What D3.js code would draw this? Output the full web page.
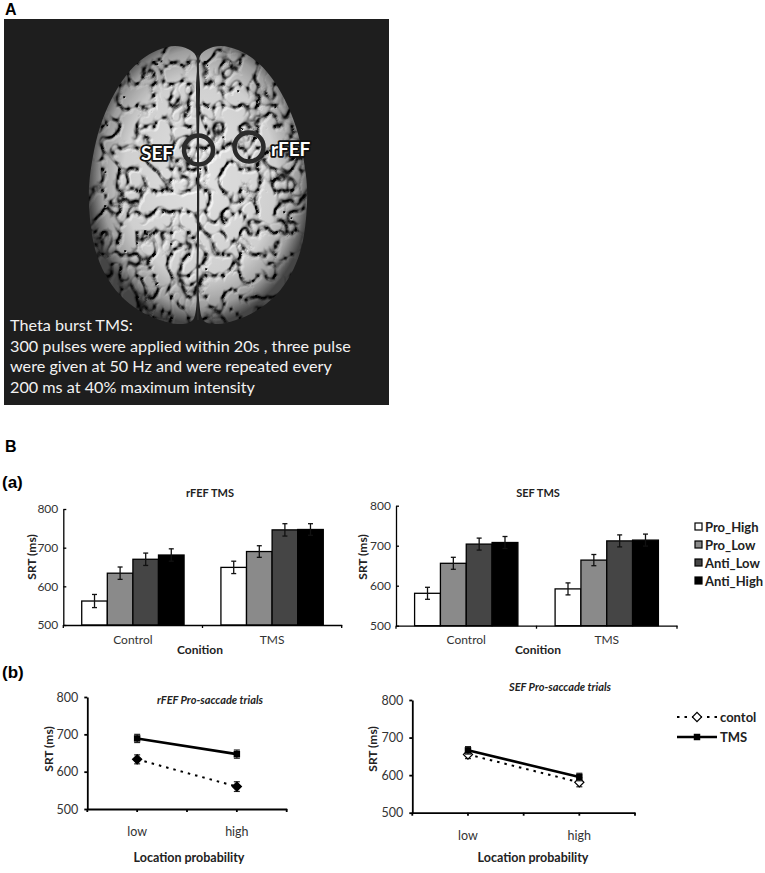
<!DOCTYPE html>
<html>
<head>
<meta charset="utf-8">
<script src="https://cdn.jsdelivr.net/npm/d3@7"></script>
<style>
  body { margin: 0; background: #fff; }
  svg { display: block; }
  text { font-family: Lato, "Open Sans", sans-serif; }
</style>
</head>
<body>
<svg id="fig" width="765" height="873"></svg>
<script>
// (a) mean saccadic reaction times per condition and trial type
const conditions = ["Control", "TMS"];
const trialTypes = ["Pro_High", "Pro_Low", "Anti_Low", "Anti_High"];
const rfefMeans = [[562, 634, 670, 681], [649, 690, 746, 747]];
const rfefErrors = [[17, 16, 16, 16], [16, 15, 16, 15]];
const sefMeans = [[581, 656, 704, 708], [592, 664, 712, 714]];
const sefErrors = [[15, 15, 15, 15], [15, 14, 15, 15]];

// (b) pro-saccade trials by location probability
const probabilities = ["low", "high"];
const lineSeries = ["contol", "TMS"];
const rfefControl = [633, 560];
const rfefControlErr = [12, 13];
const rfefTms = [689, 647];
const rfefTmsErr = [11, 11];
const sefControl = [655, 581];
const sefControlErr = [11, 12];
const sefTms = [666, 595];
const sefTmsErr = [10, 10];

const srtTicks = [500, 600, 700, 800];

// panel A caption
const tmsLines = [
  "Theta burst TMS:",
  "300 pulses were applied within 20s , three pulse",
  "were given at 50 Hz and were repeated every",
  "200 ms at 40% maximum intensity",
];

const trialColors = ["#ffffff", "#8a8a8a", "#454545", "#000000"];

const svg = d3.select("#fig");
const defs = svg.append("defs");

// ---------- panel A ----------
const panelLabel = (txt, x, y) =>
  svg
    .append("text")
    .text(txt)
    .attr("x", x)
    .attr("y", y)
    .style("font-family", "'Liberation Sans', Arial, sans-serif")
    .style("font-weight", "bold")
    .style("font-size", "16px");

panelLabel("A", 5, 15);

svg
  .append("rect")
  .attr("x", 4)
  .attr("y", 19)
  .attr("width", 385)
  .attr("height", 386)
  .attr("fill", "#1e1e1e");

// brain outline, left hemisphere; right one is mirrored about the midline
const midX = 198;
const leftOutline = [
  [196, 56], [188, 49], [175, 46], [158, 50], [141, 60], [125, 77], [111, 100],
  [100, 127], [93, 156], [89, 187], [90, 219], [95, 249], [105, 274], [120, 295],
  [140, 311], [160, 320], [178, 324], [192, 321], [197, 300], [197, 220], [197, 140], [196, 90],
];
const rightOutline = leftOutline.map(([x, y]) => [2 * midX - x, y]);

// one shading for the whole brain: bright top, darker rim
const grad = defs
  .append("radialGradient")
  .attr("id", "brainShade")
  .attr("gradientUnits", "userSpaceOnUse")
  .attr("cx", 0)
  .attr("cy", 0)
  .attr("r", 1)
  .attr("gradientTransform", "translate(200,178) scale(112,146)");
grad.append("stop").attr("offset", "0%").attr("stop-color", "#f7f7f7");
grad.append("stop").attr("offset", "68%").attr("stop-color", "#e4e4e4");
grad.append("stop").attr("offset", "88%").attr("stop-color", "#acacac");
grad.append("stop").attr("offset", "100%").attr("stop-color", "#4c4c4c");

// wrinkled cortex: creases from turbulence, then a little emboss light
const filter = defs
  .append("filter")
  .attr("id", "gyri")
  .attr("x", 0)
  .attr("y", 0)
  .attr("width", 1)
  .attr("height", 1)
  .attr("color-interpolation-filters", "sRGB");
filter
  .append("feTurbulence")
  .attr("type", "turbulence")
  .attr("baseFrequency", "0.058 0.047")
  .attr("numOctaves", 2)
  .attr("seed", 8)
  .attr("result", "noise");
filter
  .append("feColorMatrix")
  .attr("in", "noise")
  .attr("type", "matrix")
  .attr("values", "1.7 0 0 0 0  1.7 0 0 0 0  1.7 0 0 0 0  0 0 0 0 1")
  .attr("result", "raw");
filter
  .append("feGaussianBlur")
  .attr("in", "raw")
  .attr("stdDeviation", 0.6)
  .attr("result", "gray");
const crease = filter.append("feComponentTransfer").attr("in", "gray").attr("result", "crease");
["feFuncR", "feFuncG", "feFuncB"].forEach((f) =>
  crease.append(f).attr("type", "table").attr("tableValues", "0.1 0.72 0.93 1 1 1 1")
);
filter
  .append("feColorMatrix")
  .attr("in", "crease")
  .attr("type", "matrix")
  .attr("values", "0 0 0 0 0  0 0 0 0 0  0 0 0 0 0  1 0 0 0 0")
  .attr("result", "bump");
filter
  .append("feDiffuseLighting")
  .attr("in", "bump")
  .attr("surfaceScale", 2.5)
  .attr("diffuseConstant", 1.05)
  .attr("lighting-color", "#ffffff")
  .attr("result", "light")
  .append("feDistantLight")
  .attr("azimuth", 225)
  .attr("elevation", 52);
filter
  .append("feComposite")
  .attr("in", "crease")
  .attr("in2", "light")
  .attr("operator", "arithmetic")
  .attr("k1", 1.1)
  .attr("result", "shaded");
filter
  .append("feComposite")
  .attr("in", "shaded")
  .attr("in2", "SourceGraphic")
  .attr("operator", "arithmetic")
  .attr("k1", 1);

const outline = d3.line().curve(d3.curveCatmullRomClosed);

const brain = svg.append("g").attr("filter", "url(#gyri)");
[leftOutline, rightOutline].forEach((pts) => {
  brain
    .append("path")
    .attr("d", outline(pts))
    .attr("fill", "url(#brainShade)");
});

// longitudinal fissure
svg
  .append("path")
  .attr("d", d3.line().curve(d3.curveBasis)([[198, 55], [197, 120], [199, 200], [197, 270], [198, 320]]))
  .attr("fill", "none")
  .attr("stroke", "#2a2a2a")
  .attr("stroke-width", 1.8);

// stimulation sites
const sites = [
  { name: "SEF", cx: 198.5, cy: 150, lx: 141, ly: 160 },
  { name: "rFEF", cx: 249, cy: 147, lx: 271, ly: 156 },
];
svg
  .append("g")
  .selectAll("circle")
  .data(sites)
  .join("circle")
  .attr("cx", (d) => d.cx)
  .attr("cy", (d) => d.cy)
  .attr("r", 14.5)
  .attr("fill", "none")
  .attr("stroke", "#2b2b2b")
  .attr("stroke-width", 4.5);
svg
  .append("g")
  .selectAll("text")
  .data(sites)
  .join("text")
  .text((d) => d.name)
  .attr("x", (d) => d.lx)
  .attr("y", (d) => d.ly)
  .attr("fill", "#fff")
  .attr("stroke", "#111")
  .attr("stroke-width", 3.5)
  .attr("paint-order", "stroke")
  .attr("stroke-linejoin", "round")
  .style("font-weight", "bold")
  .style("font-size", "19px");

// caption, sized so the longest line matches the picture
const caption = svg
  .append("g")
  .selectAll("text")
  .data(tmsLines)
  .join("text")
  .text((d) => d)
  .attr("x", 10)
  .attr("y", (d, i) => 331 + i * 20.7)
  .attr("fill", "#f2f2f2")
  .style("font-size", "16px");
const longest = caption.filter((d, i) => i === 1).node().getComputedTextLength();
caption.style("font-size", `${(16 * 341) / longest}px`);

// ---------- panel B ----------
panelLabel("B", 5, 452);
panelLabel("(a)", 2, 488).style("font-size", "17px");
panelLabel("(b)", 2, 678).style("font-size", "17px");

const styleTicks = (g, size) => {
  g.selectAll("text").attr("fill", "#333").style("font-size", `${size}px`);
  g.selectAll("line").attr("stroke", "#000");
  g.selectAll("path").attr("stroke", "#000");
};

const barChart = (layout, title, means, errors) => {
  const g = svg.append("g");
  const x = d3.scaleBand().domain(conditions).range([layout.left, layout.right]);
  const xInner = d3
    .scaleBand()
    .domain(trialTypes)
    .range([0, x.bandwidth()])
    .paddingOuter(0.72);
  const y = d3.scaleLinear().domain([500, 800]).range([layout.bottom, layout.top]);

  const rows = conditions.flatMap((c, i) =>
    trialTypes.map((t, j) => ({ c, t, j, v: means[i][j], e: errors[i][j] }))
  );
  const cx = (d) => x(d.c) + xInner(d.t) + xInner.bandwidth() / 2;

  // bars
  g.append("g")
    .selectAll("rect")
    .data(rows)
    .join("rect")
    .attr("x", (d) => x(d.c) + xInner(d.t))
    .attr("y", (d) => y(d.v))
    .attr("width", xInner.bandwidth())
    .attr("height", (d) => y(500) - y(d.v))
    .attr("fill", (d) => trialColors[d.j])
    .attr("stroke", "#000")
    .attr("stroke-width", 1.3);

  // error bars
  const err = g.append("g").attr("stroke", "#111").attr("stroke-width", 1.3);
  err
    .selectAll("line.v")
    .data(rows)
    .join("line")
    .attr("class", "v")
    .attr("x1", cx)
    .attr("x2", cx)
    .attr("y1", (d) => y(d.v - d.e))
    .attr("y2", (d) => y(d.v + d.e));
  ["lo", "hi"].forEach((k) => {
    err
      .selectAll(`line.${k}`)
      .data(rows)
      .join("line")
      .attr("class", k)
      .attr("x1", (d) => cx(d) - 2.5)
      .attr("x2", (d) => cx(d) + 2.5)
      .attr("y1", (d) => y(k === "lo" ? d.v - d.e : d.v + d.e))
      .attr("y2", (d) => y(k === "lo" ? d.v - d.e : d.v + d.e));
  });

  // y axis, ticks inside
  g.append("g")
    .attr("transform", `translate(${layout.left},0)`)
    .attr("stroke-width", 1.3)
    .call(d3.axisLeft(y).tickValues(srtTicks).tickSize(-3).tickSizeOuter(0).tickPadding(5))
    .call((a) => styleTicks(a, 12));

  // x axis, ticks on category boundaries
  g.append("g")
    .attr("transform", `translate(0,${layout.bottom})`)
    .attr("stroke-width", 1.3)
    .call(d3.axisBottom(x).tickSize(0).tickSizeOuter(0).tickPadding(10))
    .call((a) => styleTicks(a, 12));
  g.append("g")
    .selectAll("line")
    .data([...conditions.map((c) => x(c)), layout.right])
    .join("line")
    .attr("x1", (d) => d)
    .attr("x2", (d) => d)
    .attr("y1", layout.bottom)
    .attr("y2", layout.bottom + 3)
    .attr("stroke", "#000")
    .attr("stroke-width", 1.3);

  g.append("text")
    .text(title)
    .attr("x", layout.titleX)
    .attr("y", layout.titleY)
    .attr("text-anchor", "middle")
    .attr("fill", "#222")
    .style("font-weight", "bold")
    .style("font-size", "11px");
  g.append("text")
    .text("SRT (ms)")
    .attr("transform", `translate(${layout.yLabelX},${layout.yLabelY}) rotate(-90)`)
    .attr("text-anchor", "middle")
    .attr("fill", "#222")
    .style("font-weight", "bold")
    .style("font-size", "12px");
  g.append("text")
    .text("Conition")
    .attr("x", layout.xLabelX)
    .attr("y", 654)
    .attr("text-anchor", "middle")
    .attr("fill", "#222")
    .style("font-weight", "bold")
    .style("font-size", "12px");
};

barChart(
  { left: 63.3, right: 341.7, top: 509, bottom: 625, titleX: 210, titleY: 497, yLabelX: 36, yLabelY: 557, xLabelX: 200 },
  "rFEF TMS",
  rfefMeans,
  rfefErrors
);
barChart(
  { left: 396, right: 677, top: 505.7, bottom: 625.7, titleX: 538, titleY: 497, yLabelX: 367, yLabelY: 557, xLabelX: 538 },
  "SEF TMS",
  sefMeans,
  sefErrors
);

// legend (a)
const barLegend = svg
  .append("g")
  .selectAll("g")
  .data(trialTypes)
  .join("g")
  .attr("transform", (d, i) => `translate(695,${527 + i * 18})`);
barLegend
  .append("rect")
  .attr("x", 0)
  .attr("y", -4)
  .attr("width", 7)
  .attr("height", 7)
  .attr("fill", (d, i) => trialColors[i])
  .attr("stroke", "#000")
  .attr("stroke-width", 1.2);
barLegend
  .append("text")
  .text((d) => d)
  .attr("x", 10)
  .attr("y", 4.5)
  .attr("fill", "#222")
  .style("font-weight", "bold")
  .style("font-size", "13px");

const square = d3.symbol(d3.symbolSquare, 42);

const drawMarker = (sel, kind, fill) => {
  sel
    .append("path")
    .attr("d", square())
    .attr("transform", kind === "diamond" ? "rotate(45)" : null)
    .attr("fill", fill)
    .attr("stroke", "#000")
    .attr("stroke-width", kind === "diamond" ? 1.2 : 0);
};

const lineChart = (layout, title, series) => {
  const g = svg.append("g");
  const x = d3.scaleBand().domain(probabilities).range([layout.left, layout.right]);
  const px = (p) => x(p) + x.bandwidth() / 2;
  const y = d3.scaleLinear().domain([500, 800]).range([layout.bottom, layout.top]);

  // y axis, ticks outside
  g.append("g")
    .attr("transform", `translate(${layout.left},0)`)
    .attr("stroke-width", 1.8)
    .call(d3.axisLeft(y).tickValues(srtTicks).tickSize(3).tickSizeOuter(0).tickPadding(6))
    .call((a) => styleTicks(a, 12.5));

  // x axis with ticks at boundaries and centres
  g.append("g")
    .attr("transform", `translate(0,${layout.bottom})`)
    .attr("stroke-width", 1.8)
    .call(d3.axisBottom(x).tickSize(3).tickSizeOuter(0).tickPadding(15))
    .call((a) => styleTicks(a, 12.5));
  g.append("g")
    .selectAll("line")
    .data([...probabilities.map((p) => x(p)), layout.right])
    .join("line")
    .attr("x1", (d) => d)
    .attr("x2", (d) => d)
    .attr("y1", layout.bottom)
    .attr("y2", layout.bottom + 3)
    .attr("stroke", "#000")
    .attr("stroke-width", 1.8);

  const line = d3
    .line()
    .x((d, i) => px(probabilities[i]))
    .y((d) => y(d));

  series.forEach((s) => {
    const sg = g.append("g");
    sg.append("path")
      .attr("d", line(s.values))
      .attr("fill", "none")
      .attr("stroke", "#000")
      .attr("stroke-width", s.dashed ? 2 : 2.6)
      .attr("stroke-dasharray", s.dashed ? "2.5,5" : null);

    const pts = s.values.map((v, i) => ({ p: probabilities[i], v, e: s.errors[i] }));
    const eg = sg.append("g").attr("stroke", "#222").attr("stroke-width", 1.2);
    pts.forEach((d) => {
      const xx = px(d.p);
      eg.append("line").attr("x1", xx).attr("x2", xx).attr("y1", y(d.v - d.e)).attr("y2", y(d.v + d.e));
      [d.v - d.e, d.v + d.e].forEach((yy) =>
        eg.append("line").attr("x1", xx - 3).attr("x2", xx + 3).attr("y1", y(yy)).attr("y2", y(yy))
      );
    });

    sg.selectAll("g.m")
      .data(pts)
      .join("g")
      .attr("class", "m")
      .attr("transform", (d) => `translate(${px(d.p)},${y(d.v)})`)
      .each(function () {
        drawMarker(d3.select(this), s.marker, s.fill);
      });
  });

  g.append("text")
    .text(title)
    .attr("x", layout.titleX)
    .attr("y", layout.titleY)
    .attr("text-anchor", "middle")
    .attr("fill", "#222")
    .style("font-weight", "bold")
    .style("font-style", "italic")
    .style("font-size", "11px");
  g.append("text")
    .text("SRT (ms)")
    .attr("transform", `translate(${layout.yLabelX},${layout.yLabelY}) rotate(-90)`)
    .attr("text-anchor", "middle")
    .attr("fill", "#222")
    .style("font-weight", "bold")
    .style("font-size", "12px");
  g.append("text")
    .text("Location probability")
    .attr("x", layout.xLabelX)
    .attr("y", 862)
    .attr("text-anchor", "middle")
    .attr("fill", "#222")
    .style("font-weight", "bold")
    .style("font-size", "12.5px");
};

lineChart(
  { left: 87.3, right: 286.7, top: 697, bottom: 809, titleX: 210, titleY: 704, yLabelX: 53, yLabelY: 749, xLabelX: 189 },
  "rFEF Pro-saccade trials",
  [
    { values: rfefControl, errors: rfefControlErr, dashed: true, marker: "diamond", fill: "#000" },
    { values: rfefTms, errors: rfefTmsErr, dashed: false, marker: "square", fill: "#000" },
  ]
);
lineChart(
  { left: 412.3, right: 635, top: 700, bottom: 812.7, titleX: 560, titleY: 691, yLabelX: 377, yLabelY: 749, xLabelX: 533 },
  "SEF Pro-saccade trials",
  [
    { values: sefControl, errors: sefControlErr, dashed: true, marker: "diamond", fill: "#fff" },
    { values: sefTms, errors: sefTmsErr, dashed: false, marker: "square", fill: "#000" },
  ]
);

// legend (b)
const lineLegend = svg
  .append("g")
  .selectAll("g")
  .data(lineSeries)
  .join("g")
  .attr("transform", (d, i) => `translate(677,${717 + i * 20})`);
lineLegend
  .append("line")
  .attr("x1", 0)
  .attr("x2", 40)
  .attr("stroke", "#000")
  .attr("stroke-width", (d, i) => (i === 0 ? 2 : 2.6))
  .attr("stroke-dasharray", (d, i) => (i === 0 ? "2.5,5" : null));
lineLegend
  .append("g")
  .attr("transform", "translate(20,0)")
  .each(function (d, i) {
    drawMarker(d3.select(this), i === 0 ? "diamond" : "square", i === 0 ? "#fff" : "#000");
  });
lineLegend
  .append("text")
  .text((d) => d)
  .attr("x", 43)
  .attr("y", 4.5)
  .attr("fill", "#222")
  .style("font-weight", "bold")
  .style("font-size", "13px");
</script>
</body>
</html>
